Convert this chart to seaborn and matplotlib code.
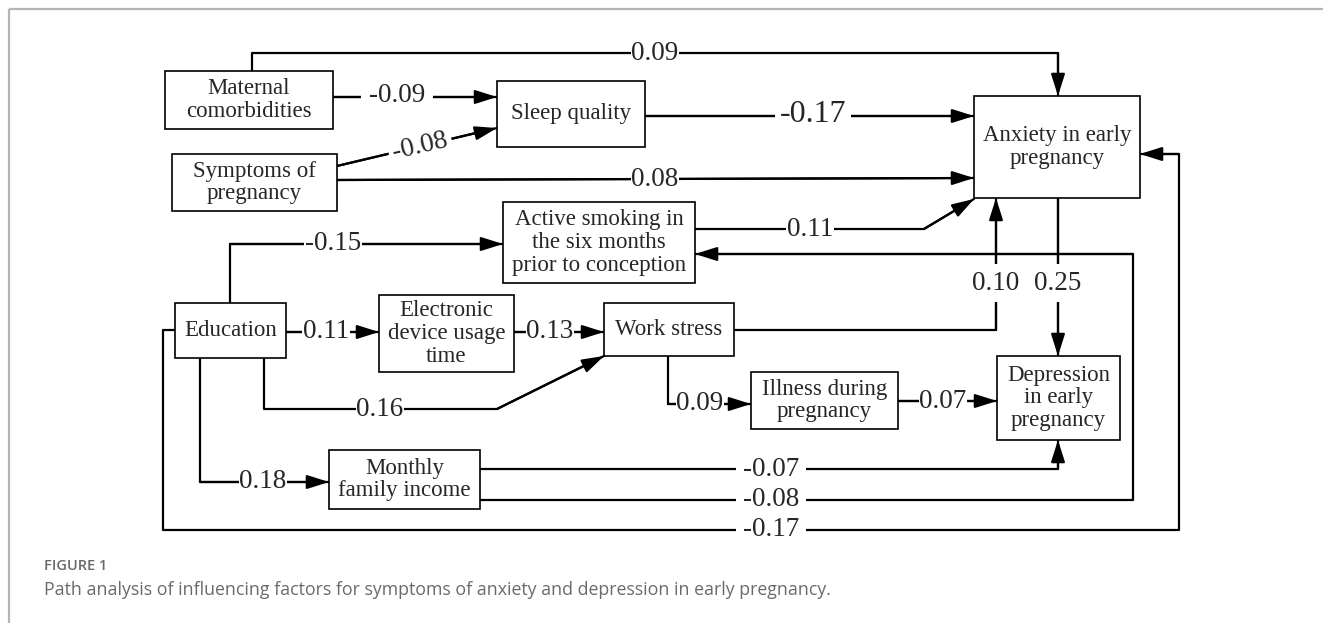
import matplotlib
matplotlib.use("Agg")
import matplotlib.pyplot as plt
import seaborn as sns
import pandas as pd
from matplotlib.patches import Rectangle

# ---------------- data ----------------
node_ids = ["maternal", "sleep", "symptoms", "anxiety", "smoking", "education",
            "electronic", "work", "illness", "depression", "income"]
node_labels = ["Maternal\ncomorbidities", "Sleep quality", "Symptoms of\npregnancy",
               "Anxiety in early\npregnancy", "Active smoking in\nthe six months\nprior to conception",
               "Education", "Electronic\ndevice usage\ntime", "Work stress",
               "Illness during\npregnancy", "Depression\nin early\npregnancy", "Monthly\nfamily income"]

edge_src = ["maternal", "maternal", "symptoms", "symptoms", "sleep", "smoking", "education",
            "education", "electronic", "education", "education", "work", "anxiety", "work",
            "illness", "income", "income", "education"]
edge_dst = ["anxiety", "sleep", "sleep", "anxiety", "anxiety", "anxiety", "smoking",
            "electronic", "work", "work", "income", "anxiety", "depression", "illness",
            "depression", "depression", "smoking", "anxiety"]
edge_coef = [0.09, -0.09, -0.08, 0.08, -0.17, 0.11, -0.15, 0.11, 0.13, 0.16, 0.18,
             0.10, 0.25, 0.09, 0.07, -0.07, -0.08, -0.17]

caption_title = "FIGURE 1"
caption_text = ("Path analysis of influencing factors for symptoms of anxiety and "
                "depression in early pregnancy.")

# ---------------- layout (pixel canvas) ----------------
W, H = 1323, 623
node_box = {
    "maternal": (165, 71, 333, 129),
    "sleep": (497, 81, 645, 147),
    "symptoms": (172, 154, 337, 211),
    "anxiety": (974, 96, 1140, 198),
    "smoking": (503, 202, 695, 283),
    "education": (175, 303, 286, 358),
    "electronic": (379, 295, 514, 372),
    "work": (604, 303, 734, 356),
    "illness": (751, 372, 898, 429),
    "depression": (997, 356, 1120, 440),
    "income": (329, 450, 480, 509),
}
edge_path = [
    [(252, 71), (252, 53), (1058, 53), (1058, 96)],
    [(333, 97), (497, 97)],
    [(337, 166), (497, 128)],
    [(337, 180), (974, 178)],
    [(645, 116), (974, 116)],
    [(695, 229), (924, 229), (974, 199)],
    [(230, 303), (230, 244), (503, 244)],
    [(286, 332), (379, 332)],
    [(514, 332), (604, 332)],
    [(264, 358), (264, 409), (497, 409), (604, 356)],
    [(200, 358), (200, 482), (329, 482)],
    [(734, 330), (996, 330), (996, 198)],
    [(1058, 198), (1058, 356)],
    [(668, 356), (668, 404), (751, 404)],
    [(898, 401), (997, 401)],
    [(480, 469), (1058, 469), (1058, 440)],
    [(480, 500), (1133, 500), (1133, 254), (695, 254)],
    [(175, 330), (163, 330), (163, 530), (1179, 530), (1179, 154), (1140, 154)],
]
# label position, rotation, font size, white gap padding
edge_lab = [
    ((655, 53), 0, 19.5, 0.03),
    ((397, 96), 0, 19.5, 0.3),
    ((420, 146), 13, 19.5, 0.15),
    ((655, 179), 0, 19.5, 0.03),
    ((813, 115), 0, 23, 0.15),
    ((810, 229), 0, 19.5, 0.03),
    ((333, 244), 0, 19.5, 0.03),
    ((326, 332), 0, 19.5, 0.03),
    ((550, 332), 0, 19.5, 0.03),
    ((380, 409), 0, 19.5, 0.03),
    ((263, 482), 0, 19.5, 0.03),
    ((996, 283), 0, 19.5, 0.25),
    ((1058, 283), 0, 19.5, 0.25),
    ((700, 404), 0, 19.5, 0.03),
    ((943, 401), 0, 19.5, 0.03),
    ((771, 469), 0, 19.5, 0.25),
    ((771, 500), 0, 19.5, 0.25),
    ((771, 530), 0, 19.5, 0.25),
]

# ---------------- drawing ----------------
sns.set_theme(style="white")
plt.rcParams["font.family"] = ["Liberation Serif", "DejaVu Serif"]

fig = plt.figure(figsize=(W / 100, H / 100), dpi=100)
ax = fig.add_axes([0, 0, 1, 1])
ax.set_xlim(0, W)
ax.set_ylim(H, 0)
ax.axis("off")

LW = 1.6

rows = []
for i, path in enumerate(edge_path):
    for k, (x, y) in enumerate(path):
        rows.append({"edge": i, "order": k, "x": x, "y": y})
df = pd.DataFrame(rows)
sns.lineplot(data=df, x="x", y="y", units="edge", estimator=None, sort=False,
             color="black", lw=LW, legend=False, ax=ax)

for path in edge_path:
    ax.annotate("", xy=path[-1], xytext=path[-2],
                arrowprops=dict(arrowstyle="-|>,head_length=0.95,head_width=0.3",
                                mutation_scale=14, lw=LW, color="black",
                                shrinkA=0, shrinkB=0))

for nid, lab in zip(node_ids, node_labels):
    x0, y0, x1, y1 = node_box[nid]
    ax.add_patch(Rectangle((x0, y0), x1 - x0, y1 - y0, facecolor="white",
                           edgecolor="black", lw=1.2, zorder=3))
    ax.text((x0 + x1) / 2, (y0 + y1) / 2, lab, ha="center", va="center",
            fontsize=16.5, linespacing=1.12, zorder=4)

for coef, ((lx, ly), rot, fs, pad) in zip(edge_coef, edge_lab):
    ax.text(lx, ly, f"{coef:.2f}", ha="center", va="center", fontsize=fs,
            rotation=rot, rotation_mode="anchor", zorder=5,
            bbox=dict(boxstyle=f"square,pad={pad}", facecolor="white",
                      edgecolor="none"))

# frame lines
ax.plot([9, 9], [9, H], color="#b4b4b4", lw=1.6, solid_capstyle="butt")
ax.plot([9, W], [9, 9], color="#b4b4b4", lw=1.6, solid_capstyle="butt")

ax.text(44, 566, caption_title, ha="left", va="center", fontsize=10.5,
        family=["Open Sans", "DejaVu Sans"], fontweight="semibold", color="#6a6a6a")
ax.text(44, 590, caption_text, ha="left", va="center", fontsize=12.75,
        family=["Open Sans", "DejaVu Sans"], color="#6a6a6a")

fig.savefig("out.png", dpi=100)
